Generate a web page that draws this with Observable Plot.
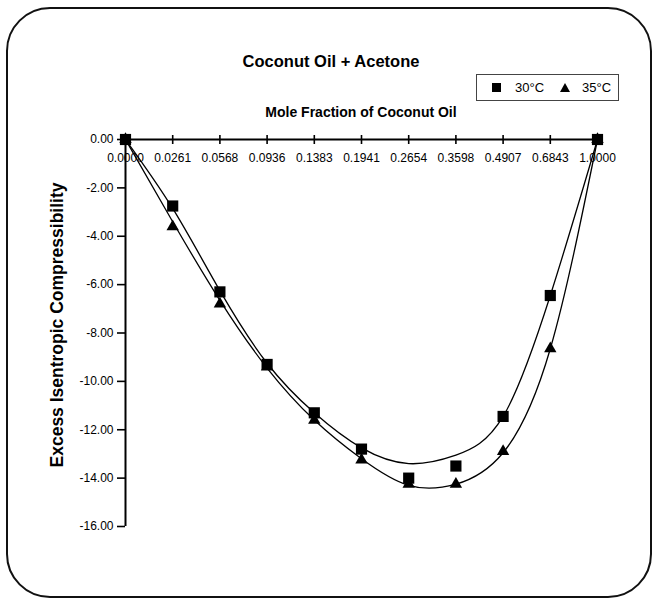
<!DOCTYPE html>
<html><head><meta charset="utf-8">
<script src="https://cdn.jsdelivr.net/npm/d3@7"></script>
<script src="https://cdn.jsdelivr.net/npm/@observablehq/plot@0.6"></script>
<style>
html,body{margin:0;padding:0;background:#fff;}
#wrap{position:relative;width:653px;height:599px;font-family:"Liberation Sans",Arial,sans-serif;color:#000;overflow:hidden;}
#frame{position:absolute;left:6px;top:7px;width:646px;height:591px;box-sizing:border-box;border:2.5px solid #111;border-radius:44px;}
#chart{position:absolute;left:0;top:0;}
#chart svg text{font-size:12px !important;font-family:"Liberation Sans",Arial,sans-serif !important;}
.t{position:absolute;white-space:nowrap;line-height:1;font-weight:bold;}
#title{left:0;width:662px;text-align:center;top:53px;font-size:16.5px;}
#xlab{left:161px;width:400px;text-align:center;top:105px;font-size:14px;}
#ylab{left:58px;top:325px;font-size:17.5px;transform:translate(-50%,-50%) rotate(-90deg);}
#legend{position:absolute;left:476px;top:74px;width:143px;height:27px;box-sizing:border-box;border:1px solid #444;font-size:13px;}
#legend .sq{position:absolute;left:15px;top:8px;width:9px;height:9px;background:#000;}
#legend .tri{position:absolute;left:83px;top:8px;width:0;height:0;border-left:5px solid transparent;border-right:5px solid transparent;border-bottom:9px solid #000;}
#legend .lt{position:absolute;top:6px;line-height:1;}
</style>
</head><body>
<div id="wrap">
  <div id="frame"></div>
  <div id="chart"></div>
  <div class="t" id="title">Coconut Oil + Acetone</div>
  <div class="t" id="xlab">Mole Fraction of Coconut Oil</div>
  <div class="t" id="ylab">Excess Isentropic Compressibility</div>
  <div id="legend">
    <div class="sq"></div><div class="lt" style="left:38px">30°C</div>
    <div class="tri"></div><div class="lt" style="left:105px">35°C</div>
  </div>
</div>
<script>
// ---- data ----
const moleFractions = ["0.0000","0.0261","0.0568","0.0936","0.1383","0.1941","0.2654","0.3598","0.4907","0.6843","1.0000"];
// measured points
const excess30 = [0, -2.75, -6.3, -9.3, -11.3, -12.8, -14.0, -13.5, -11.45, -6.45, 0];
const excess35 = [0, -3.6, -6.8, -9.4, -11.6, -13.25, -14.25, -14.25, -12.9, -8.65, 0];
// fitted (smooth) curves as drawn in the chart, read at each category
const fitted30 = [0, -2.85, -6.25, -9.25, -11.3, -12.75, -13.4, -13.05, -11.45, -6.45, 0];
const fitted35 = [0, -3.4, -6.65, -9.45, -11.6, -13.2, -14.3, -14.25, -12.95, -8.65, 0];
const yTicks = [0, -2, -4, -6, -8, -10, -12, -14, -16];

const idx = moleFractions.map((_, i) => i);
const tickSym = {draw(ctx) { ctx.moveTo(0, -4.5); ctx.lineTo(0, 4.5); }};

const chart = Plot.plot({
  width: 653, height: 599,
  marginLeft: 125, marginRight: 56, marginTop: 139, marginBottom: 73,
  x: {domain: [0, 10], axis: null},
  y: {domain: [-16, 0]},
  style: {fontFamily: '"Liberation Sans", Arial, sans-serif', fontSize: "12px", background: "transparent", color: "#000", overflow: "visible"},
  marks: [
    Plot.axisY({ticks: yTicks, tickSize: 8, tickPadding: 4, tickFormat: d => d.toFixed(2), fontSize: 12, label: null, strokeWidth: 1.6}),
    Plot.ruleX([0], {stroke: "#000", strokeWidth: 2}),
    Plot.ruleY([0], {stroke: "#000", strokeWidth: 2}),
    Plot.dot(idx, {x: d => d, y: () => 0, symbol: tickSym, r: 4, stroke: "#000", strokeWidth: 1.6, fill: "none"}),
    Plot.text(idx, {x: d => d, y: () => 0, text: d => moleFractions[d], dy: 19, fontSize: 12}),
    Plot.line(idx, {x: d => d, y: d => fitted30[d], curve: "natural", stroke: "#000", strokeWidth: 1.3}),
    Plot.line(idx, {x: d => d, y: d => fitted35[d], curve: "natural", stroke: "#000", strokeWidth: 1.3}),
    Plot.dot(idx, {x: d => d, y: d => excess35[d], symbol: "triangle", r: 4.6, fill: "#000", stroke: "none"}),
    Plot.dot(idx, {x: d => d, y: d => excess30[d], symbol: "square", r: 6.3, fill: "#000", stroke: "none"})
  ]
});
document.getElementById("chart").appendChild(chart);
</script>
</body></html>
